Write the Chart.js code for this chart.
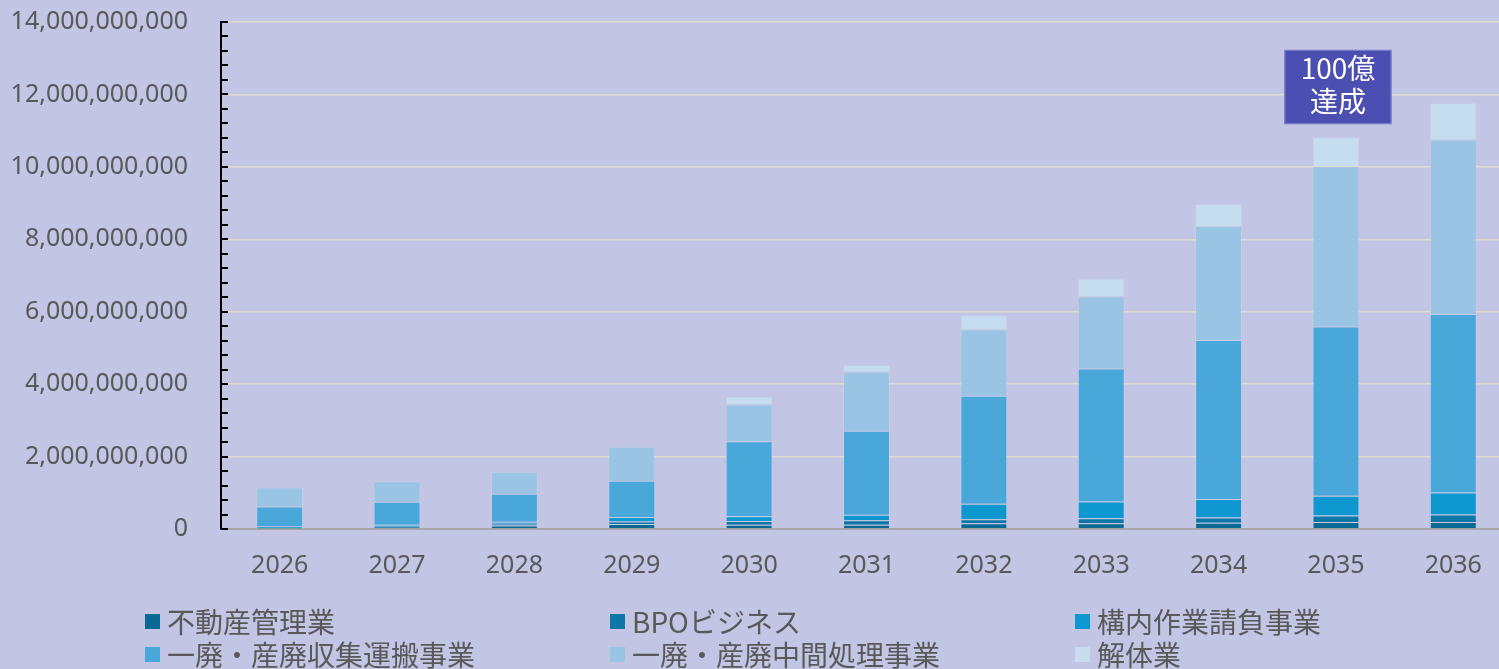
<!DOCTYPE html>
<html>
<head>
<meta charset="utf-8">
<script src="https://cdn.jsdelivr.net/npm/chart.js@4"></script>
<style>
  html, body { margin: 0; padding: 0; background: #c2c5e4; overflow: hidden; }
  #wrap { position: relative; width: 1499px; height: 669px; overflow: hidden; }
  #c { position: absolute; left: 0; top: 0; }
  .lg { position: absolute; display: flex; align-items: center; font-family: 'Noto Sans CJK JP', sans-serif; font-size: 28px; color: #595959; line-height: 1; white-space: nowrap; }
  .lg i { display: inline-block; width: 15px; height: 15px; margin-right: 7px; }
</style>
</head>
<body>
<div id="wrap">
  <canvas id="c" width="1515" height="669"></canvas>
</div>
<script>
// data (yen)
var years = ['2026', '2027', '2028', '2029', '2030', '2031', '2032', '2033', '2034', '2035', '2036'];
var fudosan = [10e6, 30e6, 100e6, 140e6, 120e6, 120e6, 160e6, 160e6, 170e6, 190e6, 190e6];
var bpo = [10e6, 30e6, 45e6, 70e6, 100e6, 120e6, 110e6, 140e6, 150e6, 180e6, 210e6];
var kounai = [50e6, 60e6, 55e6, 120e6, 130e6, 155e6, 430e6, 460e6, 510e6, 550e6, 610e6];
var shushu = [550e6, 630e6, 770e6, 1000e6, 2070e6, 2320e6, 2980e6, 3670e6, 4390e6, 4670e6, 4930e6];
var chukan = [530e6, 570e6, 610e6, 940e6, 1020e6, 1630e6, 1830e6, 1990e6, 3150e6, 4430e6, 4810e6];
var kaitai = [0, 0, 0, 0, 220e6, 190e6, 390e6, 500e6, 610e6, 800e6, 1020e6];

var seriesNames = ['不動産管理業', 'BPOビジネス', '構内作業請負事業', '一廃・産廃収集運搬事業', '一廃・産廃中間処理事業', '解体業'];
var seriesData = [fudosan, bpo, kounai, shushu, chukan, kaitai];
var seriesColors = ['#0a6a93', '#0e77a5', '#0f98cf', '#4aa7da', '#9ac4e4', '#c6dcef'];

var yTicks = [0, 2e9, 4e9, 6e9, 8e9, 10e9, 12e9, 14e9];
var note = ['100億', '達成'];

var datasets = seriesData.map(function (d, i) {
  return {
    label: seriesNames[i],
    data: d,
    backgroundColor: seriesColors[i],
    borderColor: 'rgba(255,255,255,0.1)',
    borderWidth: 1,
    barPercentage: 0.4,
    categoryPercentage: 1
  };
});

// small inside ticks on the y axis every 400M
var minorTicks = {
  id: 'minorTicks',
  afterDraw: function (chart) {
    var y = chart.scales.y, ctx = chart.ctx;
    var left = chart.chartArea.left;
    ctx.save();
    ctx.strokeStyle = '#000';
    ctx.lineWidth = 2;
    for (var v = 0; v <= 14e9 + 1; v += 4e8) {
      var p = Math.round(y.getPixelForValue(v));
      ctx.beginPath();
      ctx.moveTo(left, p);
      ctx.lineTo(left + 7, p);
      ctx.stroke();
    }
    ctx.restore();
  }
};

// the "100億 達成" box over 2035
var noteBox = {
  id: 'noteBox',
  afterDraw: function (chart) {
    var ctx = chart.ctx, xs = chart.scales.x, ys = chart.scales.y;
    var cx = xs.getPixelForValue(9) + 2;
    var top = ys.getPixelForValue(13.23e9);
    var bot = ys.getPixelForValue(11.18e9);
    var w = 107;
    ctx.save();
    ctx.fillStyle = '#4b4fb1';
    ctx.fillRect(cx - w / 2, top, w, bot - top);
    ctx.strokeStyle = '#7f82c8';
    ctx.lineWidth = 1;
    ctx.strokeRect(cx - w / 2 + 0.5, top + 0.5, w - 1, bot - top - 1);
    ctx.fillStyle = '#fff';
    ctx.font = '28px "Noto Sans CJK JP", sans-serif';
    ctx.textAlign = 'center';
    ctx.textBaseline = 'middle';
    var h = bot - top;
    ctx.fillText(note[0], cx, top + h * 0.25);
    ctx.fillText(note[1], cx, top + h * 0.7);
    ctx.restore();
  }
};

new Chart(document.getElementById('c'), {
  type: 'bar',
  data: { labels: years, datasets: datasets },
  options: {
    responsive: false,
    animation: false,
    layout: { padding: { top: 22, right: 3, bottom: 74, left: 0 } },
    plugins: { legend: { display: false }, tooltip: { enabled: false } },
    scales: {
      x: {
        stacked: true,
        grid: { display: false },
        border: { display: true, color: '#a6a6a6', width: 2 },
        ticks: { color: '#595959', padding: 14, font: { family: 'Noto Sans', size: 25 } }
      },
      y: {
        stacked: true,
        min: 0,
        max: 14e9,
        afterBuildTicks: function (s) { s.ticks = yTicks.map(function (v) { return { value: v }; }); },
        afterFit: function (s) { s.width = 221; s.paddingTop = 0; s.paddingBottom = 0; },
        grid: { color: '#dedbd0', lineWidth: 1.5, drawTicks: false },
        border: { display: true, color: '#000', width: 2 },
        ticks: {
          color: '#595959',
          padding: 33,
          font: { family: 'Noto Sans', size: 25 },
          callback: function (v) { return Number(v).toLocaleString('en-US'); }
        }
      }
    }
  },
  plugins: [minorTicks, noteBox]
});

// legend: 3 columns, 2 rows
var legendX = [145, 610, 1075];
var legendY = [622, 655];
var wrap = document.getElementById('wrap');
seriesNames.forEach(function (name, i) {
  var el = document.createElement('div');
  el.className = 'lg';
  el.style.left = legendX[i % 3] + 'px';
  el.style.top = (legendY[Math.floor(i / 3)] - 15) + 'px';
  var sw = document.createElement('i');
  sw.style.background = seriesColors[i];
  el.appendChild(sw);
  el.appendChild(document.createTextNode(name));
  wrap.appendChild(el);
});
</script>
</body>
</html>
